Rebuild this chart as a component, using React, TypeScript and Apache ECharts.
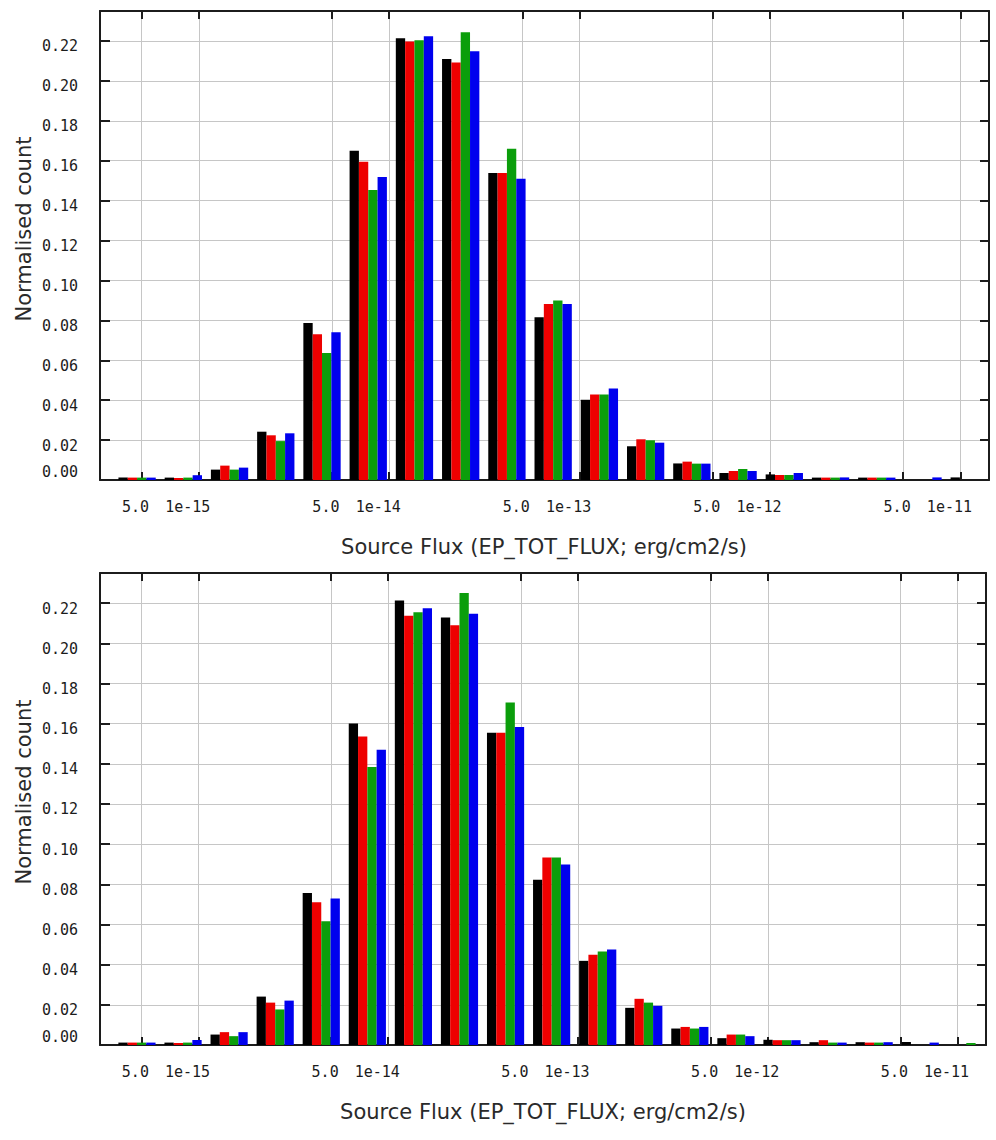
import React, { useEffect, useRef } from 'react';
import * as echarts from 'echarts';

// Histogram binning along log10(flux)
const FIRST_BIN_EDGE = -15.4456; // log10 of the lowest bin edge
const BIN_WIDTH = 0.2428; // decades per bin
const GROUP_FILL = 0.807; // share of a bin covered by its four bars

// Axis ranges
const X_MIN = -15.519;
const X_MAX = -10.85;
const Y_MAX = 0.235;
const Y_STEP = 0.02;

// Major x positions: 5e-16, 1e-15, 5e-15, 1e-14, ... , 1e-11 (log10 units)
const X_TICKS = [-15.30103, -15, -14.30103, -14, -13.30103, -13, -12.30103, -12, -11.30103, -11];

const COLORS = ['#000000', '#ee0000', '#0b9e0b', '#0000ee'];

// Upper panel: normalised counts per bin
const upperBlack = [0.0012, 0.0012, 0.0052, 0.0242, 0.0787, 0.165, 0.2213, 0.211, 0.1538, 0.0816, 0.0402, 0.0169, 0.0083, 0.0035, 0.0028, 0.0012, 0.0012, 0, 0.0013];
const upperRed = [0.0012, 0.001, 0.0072, 0.0224, 0.073, 0.1595, 0.2197, 0.2092, 0.1538, 0.0882, 0.0429, 0.0204, 0.0092, 0.0045, 0.0025, 0.0012, 0.0012, 0, 0];
const upperGreen = [0.0012, 0.0012, 0.0052, 0.0195, 0.0636, 0.1453, 0.2203, 0.2243, 0.166, 0.0899, 0.0429, 0.0199, 0.0082, 0.0055, 0.0025, 0.0012, 0.0012, 0, 0];
const upperBlue = [0.0012, 0.0024, 0.0062, 0.0234, 0.074, 0.1518, 0.2223, 0.2148, 0.151, 0.0882, 0.0459, 0.0187, 0.0082, 0.0045, 0.0035, 0.0013, 0.0012, 0.0013, 0];

// Lower panel: normalised counts per bin
const lowerBlack = [0.0012, 0.0012, 0.0052, 0.0241, 0.0757, 0.1601, 0.2213, 0.2128, 0.1555, 0.0823, 0.0419, 0.0185, 0.0082, 0.0034, 0.0026, 0.0014, 0.0014, 0.0015, 0];
const lowerRed = [0.0012, 0.001, 0.0064, 0.0211, 0.0711, 0.1536, 0.2137, 0.209, 0.1555, 0.0934, 0.0449, 0.023, 0.009, 0.0052, 0.0024, 0.0024, 0.0012, 0, 0];
const lowerGreen = [0.0012, 0.0012, 0.0044, 0.0177, 0.0616, 0.1384, 0.2155, 0.225, 0.1705, 0.0934, 0.0465, 0.0211, 0.0082, 0.0052, 0.0024, 0.0012, 0.0012, 0, 0.001];
const lowerBlue = [0.0012, 0.0025, 0.0064, 0.0221, 0.0729, 0.147, 0.2175, 0.2147, 0.1583, 0.0899, 0.0475, 0.0195, 0.009, 0.0044, 0.0024, 0.0012, 0.0014, 0.0012, 0];

const X_TITLE = 'Source Flux (EP_TOT_FLUX; erg/cm2/s)';
const Y_TITLE = 'Normalised count';

const MONO = '"DejaVu Sans Mono", monospace';
const SANS = '"DejaVu Sans", sans-serif';
const INK = '#1c1c1c';
const GRID_GRAY = '#c6c6c6';

function barSeries(values: number[], slot: number, panel: number) {
  return {
    type: 'custom',
    xAxisIndex: panel * 2,
    yAxisIndex: panel * 2,
    clip: true,
    encode: { x: 0, y: 1 },
    data: values.map((v, k) => [FIRST_BIN_EDGE + k * BIN_WIDTH, v]),
    renderItem: (_params: any, api: any) => {
      const lo = api.value(0);
      const v = api.value(1);
      if (!(v > 0)) return null;
      const p0 = api.coord([lo, 0]);
      const p1 = api.coord([lo + BIN_WIDTH, v]);
      const binPx = p1[0] - p0[0];
      const barW = (binPx * GROUP_FILL) / 4;
      const x = p0[0] + (binPx * (1 - GROUP_FILL)) / 2 + slot * barW;
      return {
        type: 'rect',
        shape: { x, y: p1[1], width: barW, height: p0[1] - p1[1] },
        style: { fill: COLORS[slot] },
      };
    },
  };
}

function xLabel(v: number) {
  const r = Math.round(v);
  if (Math.abs(v - r) < 1e-6) return `{b|1e${r}}`;
  return '{a|5.0}';
}

function yLabel(v: number) {
  const q = v / Y_STEP;
  if (Math.abs(q - Math.round(q)) > 1e-6) return '';
  const s = v.toFixed(2);
  return v === 0 ? `{z|${s}}` : `{n|${s}}`;
}

const labelFont = { fontFamily: MONO, fontSize: 15, color: INK };

function axesFor(panel: number) {
  const line = { show: true, onZero: false, lineStyle: { color: INK, width: 2 } };
  const xs = [
    {
      type: 'value',
      gridIndex: panel,
      position: 'bottom',
      min: X_MIN,
      max: X_MAX,
      axisLine: line,
      axisTick: { show: true, inside: true, length: 8, customValues: X_TICKS, lineStyle: { color: INK, width: 2 } },
      axisLabel: {
        show: true,
        customValues: X_TICKS,
        margin: 19,
        formatter: xLabel,
        ...labelFont,
        rich: {
          a: { ...labelFont, padding: [0, 12, 0, 0] },
          b: { ...labelFont, padding: [0, 22, 0, 0] },
        },
      },
      splitLine: { show: true, lineStyle: { color: GRID_GRAY, width: 1 } },
    },
    {
      type: 'value',
      gridIndex: panel,
      position: 'top',
      min: X_MIN,
      max: X_MAX,
      axisLine: line,
      axisTick: { show: true, inside: true, length: 8, customValues: X_TICKS, lineStyle: { color: INK, width: 2 } },
      axisLabel: { show: false },
      splitLine: { show: false },
    },
  ];
  const ys = [
    {
      type: 'value',
      gridIndex: panel,
      position: 'left',
      min: 0,
      max: Y_MAX,
      interval: Y_STEP,
      axisLine: line,
      axisTick: { show: true, inside: true, length: 10, lineStyle: { color: INK, width: 2 } },
      axisLabel: {
        show: true,
        margin: 22,
        formatter: yLabel,
        ...labelFont,
        rich: {
          n: { ...labelFont, padding: [11, 0, 0, 0] },
          z: { ...labelFont, padding: [0, 0, 16, 0] },
        },
      },
      splitLine: { show: true, lineStyle: { color: GRID_GRAY, width: 1 } },
    },
    {
      type: 'value',
      gridIndex: panel,
      position: 'right',
      min: 0,
      max: Y_MAX,
      interval: Y_STEP,
      axisLine: line,
      axisTick: { show: true, inside: true, length: 9, lineStyle: { color: INK, width: 2 } },
      axisLabel: { show: false },
      splitLine: { show: false },
    },
  ];
  return { xs, ys };
}

function titleText(text: string, x: number, y: number, rotation = 0) {
  return {
    type: 'text',
    x,
    y,
    rotation,
    style: {
      text,
      font: `21px ${SANS}`,
      fill: '#2a2a2a',
      align: 'center',
      verticalAlign: 'middle',
    },
  };
}

export default function App() {
  const ref = useRef<HTMLDivElement>(null);

  useEffect(() => {
    if (!ref.current) return;
    const chart = echarts.init(ref.current, null, { renderer: 'svg' });
    const upper = axesFor(0);
    const lower = axesFor(1);
    chart.setOption({
      animation: false,
      backgroundColor: '#ffffff',
      grid: [
        { left: 100, top: 11, width: 889, height: 469 },
        { left: 100, top: 573, width: 886, height: 472 },
      ],
      xAxis: [...upper.xs, ...lower.xs],
      yAxis: [...upper.ys, ...lower.ys],
      series: [
        barSeries(upperBlack, 0, 0),
        barSeries(upperRed, 1, 0),
        barSeries(upperGreen, 2, 0),
        barSeries(upperBlue, 3, 0),
        barSeries(lowerBlack, 0, 1),
        barSeries(lowerRed, 1, 1),
        barSeries(lowerGreen, 2, 1),
        barSeries(lowerBlue, 3, 1),
      ],
      graphic: [
        titleText(X_TITLE, 544, 547),
        titleText(X_TITLE, 543, 1112),
        titleText(Y_TITLE, 24, 229, Math.PI / 2),
        titleText(Y_TITLE, 24, 792, Math.PI / 2),
      ],
    });
    return () => chart.dispose();
  }, []);

  return (
    <div
      ref={ref}
      style={{ position: 'fixed', left: 0, top: 0, width: 996, height: 1140, background: '#ffffff' }}
    />
  );
}
